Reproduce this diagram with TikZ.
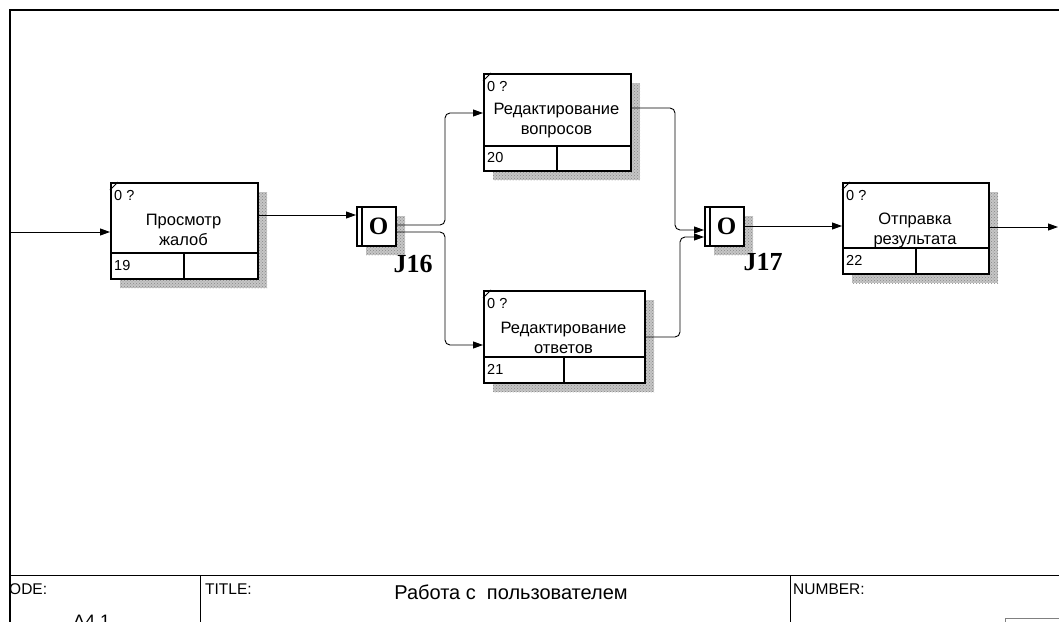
\documentclass[tikz,border=0pt]{standalone}
\usepackage{fontspec}
\setmainfont{Liberation Sans}
\newfontfamily\serifbf{Liberation Serif}
\usetikzlibrary{arrows.meta,calc,patterns}

\tikzset{
  actbox/.style={draw, line width=1.8pt, fill=white, inner sep=0pt, anchor=north west},
  shade/.style={fill=gray!45},
  hatch/.style={pattern=crosshatch dots, pattern color=gray!95},
  cell/.style={line width=1.8pt},
  arr/.style={-{Triangle[length=10pt,width=7pt]}, line width=0.9pt},
  link/.style={line width=0.9pt, rounded corners=5pt},
  boxlabel/.style={font=\fontsize{16.5}{20}\selectfont, align=center, inner sep=0pt},
  small/.style={font=\fontsize{14.5}{16}\selectfont, anchor=west, inner sep=0pt},
  jtext/.style={font=\serifbf\bfseries\fontsize{26}{26}\selectfont, inner sep=0pt},
  otext/.style={font=\serifbf\bfseries\fontsize{25}{25}\selectfont, inner sep=0pt},
  frame/.style={line width=2pt},
  rule/.style={line width=1pt},
  blocktext/.style={font=\fontsize{15.5}{17}\selectfont, anchor=west, inner sep=0pt},
}

% activity box: #1 name, #2 x, #3 y, #4 width, #5 height,
% #6 bottom cell height, #7 cell divider offset, #8 number, #9 label
\newcommand\activity[9]{%
  \fill[shade] (#2+10,#3+10) rectangle ++(#4,#5);
  \fill[hatch] (#2+10,#3+10) rectangle ++(#4,#5);
  \node[actbox, minimum width=#4, minimum height=#5] (#1) at (#2,#3) {};
  \draw[cell] (#2,#3+#5-#6) -- ++(#4,0);
  \draw[cell] (#2+#7,#3+#5-#6) -- (#2+#7,#3+#5);
  \draw[line width=1pt] (#2,#3+8) -- (#2+8,#3);
  \node[small] (#1-tag) at (#2+4,#3+14) {0 ?};
  \node[small] (#1-num) at (#2+4,#3+#5-#6/2) {#8};
  \node[boxlabel] (#1-label) at (#2+#4/2,#3+48) {#9};
}

% junction box: #1 name, #2 x, #3 y, #4 label, #5 label x, #6 label y
\newcommand\junction[6]{%
  \fill[shade] (#2+10,#3+10) rectangle ++(39,39);
  \fill[hatch] (#2+10,#3+10) rectangle ++(39,39);
  \node[actbox, minimum width=39, minimum height=39] (#1) at (#2,#3) {};
  \draw[cell] (#2+6,#3) -- (#2+6,#3+39);
  \node[otext] (#1-o) at (#2+22.5,#3+20) {O};
  \node[jtext] (#1-label) at (#5,#6) {#4};
}

\begin{document}
\begin{tikzpicture}[x=1pt,y=-1pt]
\useasboundingbox (0,0) rectangle (1059,621);
\fill[white] (0,0) rectangle (1059,621);

% sheet frame and title block
\draw[frame] (10,630) -- (10,10) -- (1070,10);
\draw[rule] (10,575) -- (1070,575);
\draw[rule] (200,575) -- (200,630);
\draw[rule] (790,575) -- (790,630);
\draw[gray, line width=1pt] (1005,630) -- (1005,618) -- (1070,618);
\node[blocktext] (node-lbl) at (9,589) {ODE:};
\node[font=\fontsize{18}{18}\selectfont, anchor=north west, inner sep=0pt] (node-val) at (73,615) {А4.1};
\node[blocktext] (title-lbl) at (205,589) {TITLE:};
\node[font=\fontsize{20}{22}\selectfont, inner sep=0pt] (title-val) at (511,592) {Работа с\ \ пользователем};
\node[blocktext] (number-lbl) at (793,589) {NUMBER:};

% activities
\activity{b19}{110}{182}{147}{96}{25}{74}{19}{Просмотр\\жалоб}
\activity{b20}{483}{73}{147}{97}{24}{74}{20}{Редактирование\\вопросов}
\activity{b21}{483}{290}{161}{92}{25}{81}{21}{Редактирование\\ответов}
\activity{b22}{842}{182}{146}{91}{25}{74}{22}{Отправка\\результата}

% junctions
\junction{j16}{356}{206}{J16}{413}{264}
\junction{j17}{704}{206}{J17}{763}{262}

% connectors
\coordinate (src) at (10,232);
\coordinate (snk) at (1058,227);
\draw[arr] (src) -- ($(b19.north west)+(0,50)$);
\draw[arr] ($(b19.north east)+(0,33)$) -- ($(j16.north west)+(0,9)$);
\draw[link,arr] ($(j16.north east)+(0,19)$) -| ($(b20.north west)+(-38,40)$) -- ($(b20.north west)+(0,40)$);
\draw[link,arr] ($(j16.north east)+(0,26)$) -| ($(b21.north west)+(-38,55)$) -- ($(b21.north west)+(0,55)$);
\draw[link,arr] ($(b20.north east)+(0,35)$) -| ($(j17.north west)+(-29,24)$) -- ($(j17.north west)+(0,24)$);
\draw[link,arr] ($(b21.north east)+(0,47)$) -| ($(j17.north west)+(-24,31)$) -- ($(j17.north west)+(0,31)$);
\draw[arr] ($(j17.north east)+(0,20)$) -- ($(b22.north west)+(0,44)$);
\draw[arr] ($(b22.north east)+(0,45)$) -- (snk);
\end{tikzpicture}
\end{document}
